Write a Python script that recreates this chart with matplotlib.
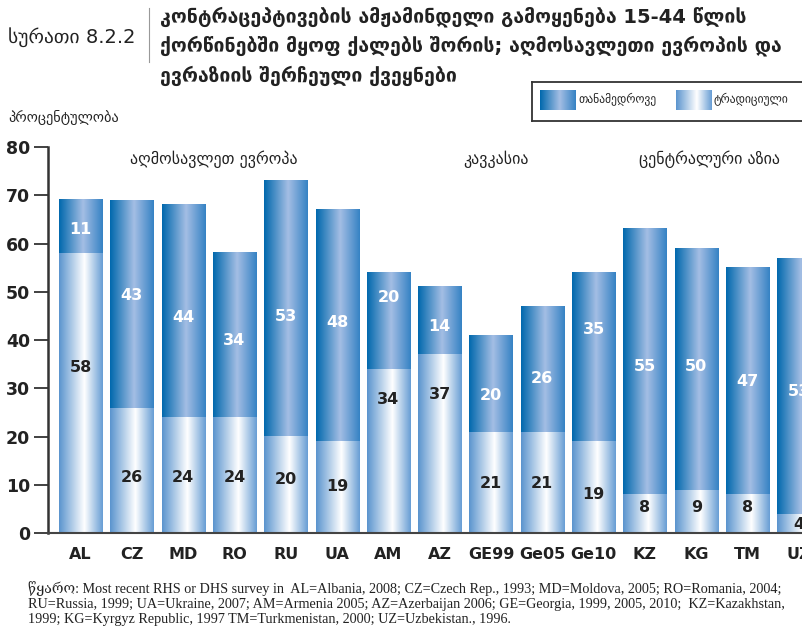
import numpy as np
import matplotlib
matplotlib.use('Agg')
import matplotlib.pyplot as plt
from matplotlib.colors import LinearSegmentedColormap

plt.rcParams['font.family'] = ['DejaVu Sans']

countries = ['AL', 'CZ', 'MD', 'RO', 'RU', 'UA', 'AM', 'AZ', 'GE99', 'Ge05', 'Ge10',
             'KZ', 'KG', 'TM', 'UZ']
traditional = [58, 26, 24, 24, 20, 19, 34, 37, 21, 21, 19, 8, 9, 8, 4]
modern = [11, 43, 44, 34, 53, 48, 20, 14, 20, 26, 35, 55, 50, 47, 53]
groups = ['აღმოსავლეთ ევროპა', 'კავკასია', 'ცენტრალური აზია']

# where the numbers sit inside each segment
trad_lab_y = [34.2, 11.6, 11.6, 11.6, 11.0, 9.7, 27.6, 28.8, 10.2, 10.2, 7.9, 5.2, 5.2, 5.2, 1.7]
mod_lab_y = [63.0, 49.3, 44.6, 39.8, 44.8, 43.7, 48.9, 42.9, 28.4, 32.1, 42.1, 34.6, 34.6, 31.5, 29.4]

cm_mod = LinearSegmentedColormap.from_list('mod', [(0, '#0068ad'), (0.55, '#a4bee4'), (1, '#3582c4')])
cm_trad = LinearSegmentedColormap.from_list('trad', [(0, '#5a94ce'), (0.58, '#ffffff'), (1, '#679dd4')])
grad = np.linspace(0, 1, 256).reshape(1, -1)

fig = plt.figure(figsize=(8.03, 6.29), dpi=100)
ax = fig.add_axes([48 / 803, 96 / 629, 1 - 48 / 803, 386 / 629])

x = np.arange(len(countries))
w = 0.84
b1 = ax.bar(x, traditional, width=w, color='none')
b2 = ax.bar(x, modern, width=w, bottom=traditional, color='none')

# paint each segment with a horizontal gradient
for bars, cmap in ((b1, cm_trad), (b2, cm_mod)):
    for p in bars:
        x0, y0 = p.get_x(), p.get_y()
        ax.imshow(grad, cmap=cmap, aspect='auto', interpolation='bilinear',
                  extent=(x0, x0 + p.get_width(), y0, y0 + p.get_height()), zorder=2)

for i in x:
    ax.text(i, trad_lab_y[i], str(traditional[i]), ha='center', va='center',
            fontsize=11.5, fontweight='bold', color='#222222', zorder=3)
    ax.text(i, mod_lab_y[i], str(modern[i]), ha='center', va='center',
            fontsize=11.5, fontweight='bold', color='white', zorder=3)

ax.set_xlim(-0.634, 14.08)
ax.set_ylim(0, 80)
ax.set_yticks(range(0, 81, 10))
ax.set_xticks(x)
ax.set_xticklabels(countries, fontsize=11.5, fontweight='bold', color='#222222')
ax.tick_params(axis='x', length=0, pad=10)
ax.tick_params(axis='y', length=10, width=1.3, color='#333333', labelsize=12.5, pad=3)
for t in ax.get_yticklabels():
    t.set_fontweight('bold')
    t.set_color('#222222')
for s in ('top', 'right'):
    ax.spines[s].set_visible(False)
ax.spines['left'].set_linewidth(1.8)
ax.spines['left'].set_color('#333333')
ax.spines['bottom'].set_linewidth(1.5)
ax.spines['bottom'].set_color('#444444')

ax.text(2.6, 77.5, groups[0], ha='center', va='center', fontsize=11.5, color='#222222')
ax.text(8.1, 77.5, groups[1], ha='center', va='center', fontsize=11.5, color='#222222')
ax.text(12.25, 77.5, groups[2], ha='center', va='center', fontsize=11.5, color='#222222')

# title block
fig.text(8 / 803, 1 - 37 / 629, 'სურათი 8.2.2', fontsize=14, va='center', color='#222222')
fig.add_artist(plt.Line2D([149 / 803, 149 / 803], [1 - 8 / 629, 1 - 62 / 629],
                          color='#999999', lw=0.8))
title = ('კონტრაცეპტივების ამჟამინდელი გამოყენება 15-44 წლის\n'
         'ქორწინებში მყოფ ქალებს შორის; აღმოსავლეთი ევროპის და\n'
         'ევრაზიის შერჩეული ქვეყნები')
fig.text(160 / 803, 1 - 6 / 629, title, fontsize=14, fontweight='bold', va='top',
         linespacing=1.55, color='#222222')
fig.text(8 / 803, 1 - 117 / 629, 'პროცენტულობა', fontsize=10.3, va='center', color='#222222')

# legend box
lax = fig.add_axes([532 / 803, 1 - 121 / 629, 280 / 803, 39 / 629])
lax.set_xlim(532, 812)
lax.set_ylim(121, 82)
lax.set_xticks([])
lax.set_yticks([])
for s in lax.spines.values():
    s.set_linewidth(1.3)
    s.set_color('#333333')
lax.imshow(grad, cmap=cm_mod, aspect='auto', extent=(540, 576, 110, 90))
lax.imshow(grad, cmap=cm_trad, aspect='auto', extent=(676, 712, 110, 90))
lax.text(578, 100, 'თანამედროვე', fontsize=8.3, va='center', color='#222222')
lax.text(714, 100, 'ტრადიციული', fontsize=8.3, va='center', color='#222222')

note = ('წყარო: Most recent RHS or DHS survey in  AL=Albania, 2008; CZ=Czech Rep., 1993; '
        'MD=Moldova, 2005; RO=Romania, 2004;\n'
        'RU=Russia, 1999; UA=Ukraine, 2007; AM=Armenia 2005; AZ=Azerbaijan 2006; '
        'GE=Georgia, 1999, 2005, 2010;  KZ=Kazakhstan,\n'
        '1999; KG=Kyrgyz Republic, 1997 TM=Turkmenistan, 2000; UZ=Uzbekistan., 1996.')
fig.text(28 / 803, 1 - 581 / 629, note, fontsize=10.2, va='top', linespacing=1.2,
         family=['Liberation Serif', 'DejaVu Serif', 'DejaVu Sans'], color='#222222')

fig.savefig('out.png', dpi=100)
